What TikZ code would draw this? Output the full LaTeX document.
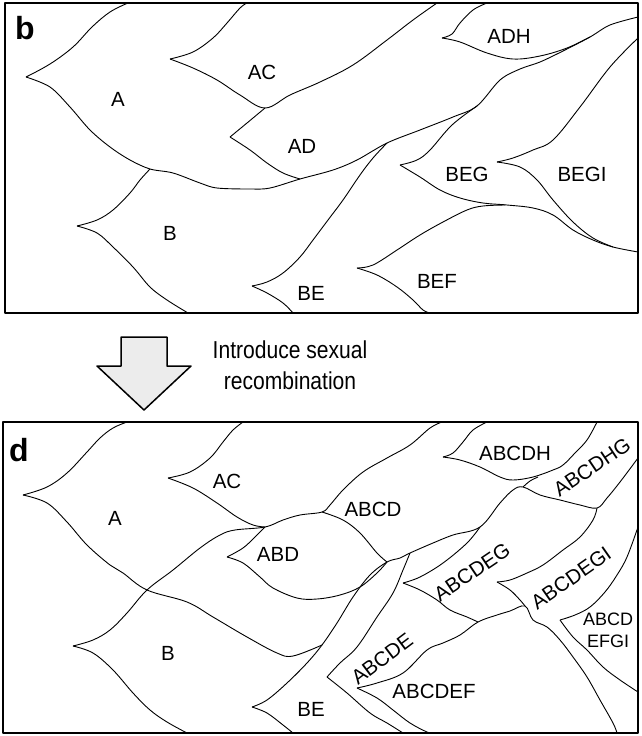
\documentclass[tikz,border=0pt]{standalone}
\usepackage{fontspec}
\setmainfont{Liberation Sans}
\newfontfamily\capfont[FakeStretch=0.86]{Liberation Sans}
\begin{document}
\begin{tikzpicture}[x=1pt,y=-1pt,line join=round,
  frame/.style={line width=1.8pt},
  branch/.style={line width=0.9pt},
  lbl/.style={font=\fontsize{20.5}{23}\selectfont,inner sep=0pt},
  panel/.style={font=\fontsize{32}{34}\selectfont\bfseries,inner sep=0pt}]

\useasboundingbox (0,0) rectangle (641,736);

% panel b
\draw[frame] (5,3) rectangle (638,313);
\node[panel] (bname) at (25,28) {b};

\draw[branch] plot[smooth,tension=0.6] coordinates {(26,77) (50,64) (73,47) (92,27) (110,12) (128,3)};
\draw[branch] plot[smooth,tension=0.55] coordinates {(26,77) (50,87) (70,107) (90,130) (110,147) (130,160) (150,169) (173,173) (200,183) (217,188) (250,189) (270,188) (300,179) (333,170) (357,160) (387,143) (420,130) (453,117) (477,106) (500,80) (520,69) (540,62) (563,51) (590,37) (610,25) (638,17)};
\draw[branch] plot[smooth,tension=0.6] coordinates {(170,59) (193,52) (213,38) (227,23) (240,8) (247,3)};
\draw[branch] plot[smooth,tension=0.6] coordinates {(170,59) (193,68) (217,80) (240,95) (265,108) (290,95) (320,82) (353,65) (387,40) (413,20) (437,3)};
\draw[branch] plot[smooth,tension=0.6] coordinates {(230,137) (247,123) (265,108)};
\draw[branch] plot[smooth,tension=0.6] coordinates {(230,137) (250,150) (267,163) (283,173) (300,179)};
\draw[branch] plot[smooth,tension=0.6] coordinates {(442,38) (452,34) (460,23) (473,10) (487,3)};
\draw[branch] plot[smooth,tension=0.6] coordinates {(442,38) (460,42) (487,53) (513,59) (540,56) (567,48) (590,37)};
\draw[branch] plot[smooth,tension=0.6] coordinates {(400,165) (417,160) (430,150) (452,125) (477,106)};
\draw[branch] plot[smooth,tension=0.6] coordinates {(400,165) (420,177) (440,190) (460,198) (483,203) (507,205) (533,208) (553,215) (573,230) (593,240) (613,247) (638,252)};
\draw[branch] plot[smooth,tension=0.6] coordinates {(497,162) (513,158) (533,150) (553,140) (580,107) (610,67) (638,38)};
\draw[branch] plot[smooth,tension=0.6] coordinates {(497,162) (520,167) (537,180) (553,200) (573,222) (593,238) (613,247)};
\draw[branch] plot[smooth,tension=0.6] coordinates {(357,268) (373,265) (397,250) (420,235) (443,222) (467,210) (483,206) (505,205)};
\draw[branch] plot[smooth,tension=0.6] coordinates {(357,268) (377,275) (397,287) (413,300) (423,310) (430,313)};
\draw[branch] plot[smooth,tension=0.6] coordinates {(252,286) (267,282) (283,273) (300,257) (313,240) (328,220) (343,200) (360,175) (373,158) (387,143)};
\draw[branch] plot[smooth,tension=0.6] coordinates {(252,286) (267,293) (283,303) (293,313)};
\draw[branch] plot[smooth,tension=0.6] coordinates {(77,226) (97,220) (113,210) (130,193) (140,180) (150,169)};
\draw[branch] plot[smooth,tension=0.6] coordinates {(77,226) (97,233) (113,247) (133,267) (150,287) (167,300) (188,313)};

\node[lbl] (bA) at (118,99) {A};
\node[lbl] (bAC) at (262,72) {AC};
\node[lbl] (bAD) at (302,146) {AD};
\node[lbl] (bADH) at (509,36) {ADH};
\node[lbl] (bBEG) at (467,174) {BEG};
\node[lbl] (bBEGI) at (582,174) {BEGI};
\node[lbl] (bB) at (170,233) {B};
\node[lbl] (bBE) at (311,293) {BE};
\node[lbl] (bBEF) at (437,281) {BEF};

% arrow and caption
\draw[line width=1.5pt,fill=gray!15] (121,337) -- (167,337) -- (167,366) -- (191,366) -- (144,410) -- (97,366) -- (121,366) -- cycle;
\node[font=\capfont\fontsize{24.5}{31}\selectfont,align=center,inner sep=0pt] (caption) at (290,365) {Introduce sexual\\recombination};

% panel d
\draw[frame] (3,422) rectangle (638,733);
\node[panel] (dname) at (19,450) {d};

\draw[branch] plot[smooth,tension=0.6] coordinates {(23,495) (47,487) (67,473) (87,452) (100,438) (113,428) (127,422)};
\draw[branch] plot[smooth,tension=0.6] coordinates {(23,495) (47,503) (67,522) (87,545) (110,565) (123,573) (147,590) (187,602) (213,617) (247,637) (277,653) (293,656) (322,645)};
\draw[branch] plot[smooth,tension=0.6] coordinates {(168,478) (190,472) (210,458) (223,442) (233,430) (243,422)};
\draw[branch] plot[smooth,tension=0.6] coordinates {(168,478) (193,488) (217,503) (237,517) (253,525) (265,527)};
\draw[branch] plot[smooth,tension=0.6] coordinates {(73,646) (93,640) (110,630) (127,613) (147,590) (173,570) (200,548) (220,535) (235,530) (265,527) (283,520) (300,515) (322,512) (330,505) (343,490) (363,472) (387,458) (410,445) (430,428) (442,422)};
\draw[branch] plot[smooth,tension=0.6] coordinates {(73,646) (93,653) (113,670) (133,693) (150,710) (167,722) (187,733)};
\draw[branch] plot[smooth,tension=0.6] coordinates {(227,557) (243,548) (255,537) (265,527)};
\draw[branch] plot[smooth,tension=0.6] coordinates {(227,557) (243,563) (260,577) (273,588) (297,598) (317,599) (340,595) (360,587) (377,573) (387,562)};
\draw[branch] plot[smooth,tension=0.6] coordinates {(322,512) (343,520) (360,533) (377,553) (387,562)};
\draw[branch] plot[smooth,tension=0.6] coordinates {(252,707) (267,700) (287,683) (307,663) (322,645) (337,623) (353,597) (370,575) (387,562) (400,558) (410,553) (433,543) (453,535) (480,527) (500,503) (513,490) (523,487) (540,495) (560,500) (580,505) (597,508) (607,498) (620,482) (638,458)};
\draw[branch] plot[smooth,tension=0.6] coordinates {(252,707) (267,713) (283,725) (293,733)};
\draw[branch] plot[smooth,tension=0.6] coordinates {(327,677) (340,663) (357,647) (377,617) (393,593) (403,570) (410,553)};
\draw[branch] plot[smooth,tension=0.6] coordinates {(327,677) (347,693) (370,713) (387,723) (403,733)};
\draw[branch] plot[smooth,tension=0.6] coordinates {(403,583) (420,577) (443,563) (467,543) (480,527)};
\draw[branch] plot[smooth,tension=0.6] coordinates {(403,583) (420,590) (437,600) (450,610) (467,617) (478,622)};
\draw[branch] plot[smooth,tension=0.6] coordinates {(357,688) (377,683) (403,673) (427,650) (443,643) (460,635) (478,622) (497,615) (510,611) (525,606) (533,620) (547,627) (560,640) (573,657) (587,677) (600,700) (613,723) (617,733)};
\draw[branch] plot[smooth,tension=0.6] coordinates {(357,688) (377,698) (393,710) (410,723) (427,732) (433,733)};
\draw[branch] plot[smooth,tension=0.6] coordinates {(497,582) (510,590) (520,600) (525,606)};
\draw[branch] plot[smooth,tension=0.6] coordinates {(497,582) (510,580) (527,573) (543,565) (563,550) (580,537) (593,520) (597,508)};
\draw[branch] plot[smooth,tension=0.6] coordinates {(443,457) (453,453) (463,442) (473,430) (487,422)};
\draw[branch] plot[smooth,tension=0.6] coordinates {(443,457) (460,460) (480,467) (500,477) (513,480) (533,477) (553,470) (563,465) (575,453) (587,440) (597,422)};
\draw[branch] plot[smooth,tension=0.6] coordinates {(523,487) (530,481) (538,477)};
\draw[branch] plot[smooth,tension=0.6] coordinates {(560,620) (575,615) (590,607) (605,592) (617,575) (627,557) (638,527)};
\draw[branch] plot[smooth,tension=0.6] coordinates {(560,620) (573,637) (587,650) (603,667) (620,680) (638,692)};

\node[lbl] (dA) at (115,518) {A};
\node[lbl] (dAC) at (227,481) {AC};
\node[lbl] (dABD) at (278,554) {ABD};
\node[lbl] (dABCD) at (373,509) {ABCD};
\node[lbl] (dABCDH) at (515,453) {ABCDH};
\node[lbl,rotate=34] (dABCDHG) at (592,467) {ABCDHG};
\node[lbl,rotate=34] (dABCDEG) at (472,572) {ABCDEG};
\node[lbl,rotate=35] (dABCDEGI) at (571,578) {ABCDEGI};
\node[lbl,rotate=37] (dABCDE) at (382,659) {ABCDE};
\node[lbl] (dABCDEF) at (434,691) {ABCDEF};
\node[font=\fontsize{18}{22}\selectfont,align=center,inner sep=0pt] (dABCDEFGI) at (608,630) {ABCD\\EFGI};
\node[lbl] (dB) at (168,653) {B};
\node[lbl] (dBE) at (311,709) {BE};
\end{tikzpicture}
\end{document}
